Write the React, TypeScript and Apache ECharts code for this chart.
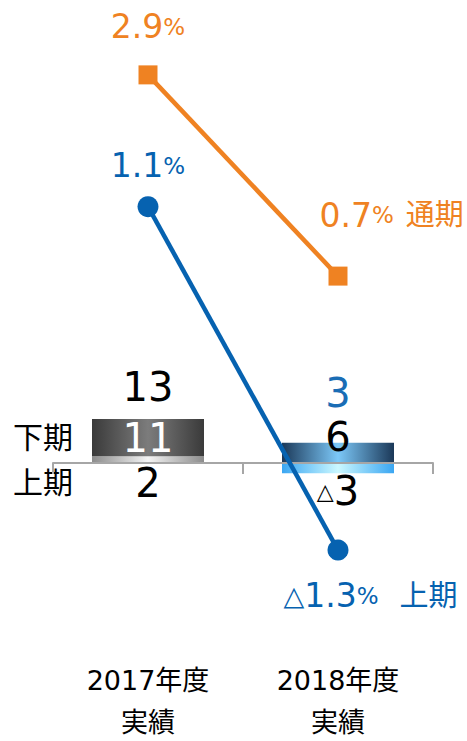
import React, { useEffect, useRef } from "react";
import * as echarts from "echarts";

const categories = ["2017年度", "2018年度"];
const categorySub = ["実績", "実績"];
const firstHalfValues = [2, -3]; // 上期
const secondHalfValues = [11, 6]; // 下期
const totalValues = [13, 3];
const fullYearRates = [2.9, 0.7]; // 通期
const firstHalfRates = [1.1, -1.3]; // 上期
const fullYearName = "通期";
const firstHalfName = "上期";
const secondHalfName = "下期";

const FONT = "'DejaVu Sans', 'Noto Sans CJK JP', sans-serif";
const ORANGE = "#EF8222";
const BLUE = "#0662B0";

const fmtNum = (v: number) => (v < 0 ? "{t|△}{n|" + Math.abs(v) + "}" : "{n|" + v + "}");
const fmtRate = (v: number) =>
  v < 0 ? "{t|△}{n|" + Math.abs(v).toFixed(1) + "}{p|%}" : "{n|" + v.toFixed(1) + "}{p|%}";

const grad = (edge: string, mid: string) => ({
  type: "linear",
  x: 0,
  y: 0,
  x2: 1,
  y2: 0,
  colorStops: [
    { offset: 0, color: edge },
    { offset: 0.5, color: mid },
    { offset: 1, color: edge },
  ],
});

export default function App() {
  const ref = useRef<HTMLDivElement>(null);
  useEffect(() => {
    if (!ref.current) return;
    const chart = echarts.init(ref.current, undefined, { renderer: "svg" });
    const rateRich = (color: string, gap: number) => ({
      n: { fontSize: 33, fontFamily: FONT, color },
      p: { fontSize: 23, fontFamily: FONT, color },
      t: { fontSize: 27, fontFamily: FONT, color },
      s: { fontSize: 29, fontFamily: FONT, color, padding: [0, 0, 0, gap] },
    });
    const numRich = (color: string) => ({
      n: { fontSize: 40, fontFamily: FONT, color },
      t: { fontSize: 22, fontFamily: FONT, color },
    });
    const option: any = {
      animation: false,
      textStyle: { fontFamily: FONT },
      grid: { left: 53, right: 34, top: 20, height: 600, outerBoundsMode: "none", containLabel: false },
      xAxis: {
        type: "category",
        data: categories,
        z: 5,
        axisLine: { onZero: true, onZeroAxisIndex: 0, lineStyle: { color: "#A6A6A6", width: 2 } },
        axisTick: { show: true, length: 11, lineStyle: { color: "#A6A6A6", width: 2 } },
        axisLabel: {
          margin: 39,
          fontSize: 27,
          lineHeight: 42,
          color: "#000",
          fontFamily: FONT,
          formatter: (v: string, i: number) => v + "\n" + categorySub[i],
        },
      },
      yAxis: [
        { type: "value", show: false, min: -46.45, max: 131.07, splitLine: { show: false } },
        { type: "value", show: false, min: -3.06, max: 3.5, splitLine: { show: false } },
        { type: "value", show: false, min: -1.789, max: 2.405, splitLine: { show: false } },
      ],
      series: [
        {
          name: firstHalfName,
          type: "bar",
          stack: "a",
          barWidth: 112,
          yAxisIndex: 0,
          data: firstHalfValues.map((v, i) => ({
            value: v,
            itemStyle: { color: i === 0 ? grad("#8C8C8C", "#F4F4F4") : grad("#3AA6F2", "#CBF8FF") },
            label: {
              show: true,
              position: "bottom",
              distance: i === 0 ? 0 : -2,
              color: "#000",
              formatter: () => fmtNum(v),
              rich: numRich("#000"),
            },
          })),
        },
        {
          name: secondHalfName,
          type: "bar",
          stack: "a",
          barWidth: 112,
          yAxisIndex: 0,
          data: secondHalfValues.map((v, i) => ({
            value: v,
            itemStyle: { color: i === 0 ? grad("#3A3A3A", "#7C7C7C") : grad("#1B3858", "#7CC8F8") },
            label: {
              show: true,
              position: "inside",
              offset: i === 0 ? [0, 0] : [0, -16],
              color: i === 0 ? "#fff" : "#000",
              formatter: () => fmtNum(v),
              rich: numRich(i === 0 ? "#fff" : "#000"),
            },
          })),
        },
        {
          name: "total",
          type: "scatter",
          yAxisIndex: 0,
          symbolSize: 0,
          z: 4,
          itemStyle: { opacity: 1 },
          data: totalValues.map((v, i) => ({
            value: v,
            label: {
              show: true,
              position: "top",
              distance: i === 0 ? 12 : 40,
              opacity: 1,
              formatter: () => fmtNum(v),
              rich: numRich(i === 0 ? "#000" : "#1A6DB5"),
            },
          })),
        },
        {
          name: fullYearName,
          type: "line",
          yAxisIndex: 1,
          z: 10,
          symbol: "rect",
          symbolSize: 19,
          lineStyle: { color: ORANGE, width: 4.5 },
          itemStyle: { color: ORANGE },
          data: fullYearRates.map((v, i) => ({
            value: v,
            label: {
              show: true,
              position: i === 0 ? "top" : [-9, -51.5],
              distance: 22,
              align: i === 0 ? "center" : "left",
              verticalAlign: i === 0 ? undefined : "middle",
              formatter: () => fmtRate(v) + (i === fullYearRates.length - 1 ? "{s|" + fullYearName + "}" : ""),
              rich: rateRich(ORANGE, 12),
            },
          })),
        },
        {
          name: firstHalfName + "率",
          type: "line",
          yAxisIndex: 2,
          z: 10,
          symbol: "circle",
          symbolSize: 21,
          lineStyle: { color: BLUE, width: 4.5 },
          itemStyle: { color: BLUE },
          data: firstHalfRates.map((v, i) => ({
            value: v,
            label: {
              show: true,
              position: i === 0 ? "top" : [-44, 56],
              distance: 14,
              align: i === 0 ? "center" : "left",
              verticalAlign: i === 0 ? undefined : "middle",
              formatter: () => fmtRate(v) + (i === firstHalfRates.length - 1 ? "{s|" + firstHalfName + "}" : ""),
              rich: rateRich(BLUE, 21),
            },
          })),
        },
      ],
      graphic: [
        {
          type: "text",
          left: 13,
          top: 422,
          style: { text: secondHalfName, fontSize: 30, fontFamily: FONT, fill: "#000" },
        },
        {
          type: "text",
          left: 13,
          top: 467,
          style: { text: firstHalfName, fontSize: 30, fontFamily: FONT, fill: "#000" },
        },
      ],
    };
    chart.setOption(option);
    return () => chart.dispose();
  }, []);
  return (
    <div
      ref={ref}
      style={{ position: "absolute", left: 0, top: 0, width: 467, height: 741, background: "#fff" }}
    />
  );
}
